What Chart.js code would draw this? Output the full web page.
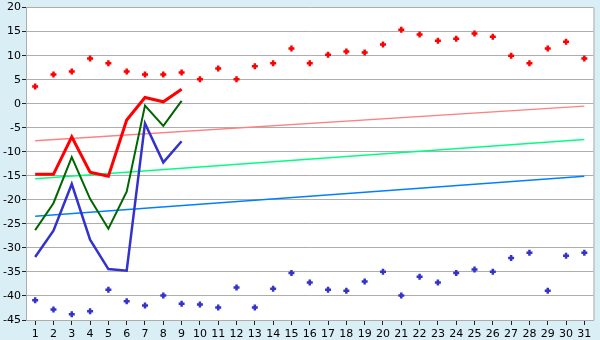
<!DOCTYPE html>
<html>
<head>
<meta charset="utf-8">
<script src="https://cdn.jsdelivr.net/npm/chart.js@4/dist/chart.umd.min.js"></script>
<style>
  html, body { margin: 0; padding: 0; background: #D9EEF5; }
  #wrap { width: 600px; height: 340px; }
</style>
</head>
<body>
<div id="wrap"><canvas id="c" width="600" height="340"></canvas></div>
<script>
// Categories (days)
const days = ['1','2','3','4','5','6','7','8','9','10','11','12','13','14','15','16','17','18','19','20','21','22','23','24','25','26','27','28','29','30','31'];

// Daily high markers (red)
const highPoints = [3.6, 6.1, 6.7, 9.4, 8.4, 6.7, 6.1, 6.1, 6.5, 5.1, 7.35, 5.1, 7.8, 8.4, 11.5, 8.4, 10.2, 10.85, 10.65, 12.3, 15.4, 14.4, 13.1, 13.5, 14.6, 13.95, 10.0, 8.4, 11.5, 12.9, 9.4];

// Daily low markers (blue)
const lowPoints = [-40.9, -42.8, -43.8, -43.2, -38.7, -41.1, -42.0, -39.9, -41.6, -41.8, -42.4, -38.25, -42.4, -38.5, -35.2, -37.2, -38.7, -38.9, -37.0, -34.95, -39.9, -36.0, -37.2, -35.2, -34.5, -34.95, -32.1, -31.0, -38.9, -31.65, -31.0];

// Current month lines (days 1-9)
const redLine   = [-14.7, -14.7, -6.9, -14.25, -15.1, -3.4, 1.3, 0.4, 3.0];
const greenLine = [-26.3, -20.7, -11.1, -19.8, -26.0, -18.3, -0.4, -4.6, 0.6];
const blueLine  = [-31.9, -26.4, -16.7, -28.3, -34.4, -34.75, -4.1, -12.2, -7.8];

// Trend lines (values at day 1 and day 31)
const trendHigh = { start: -7.7, end: -0.5 };
const trendMid  = { start: -15.6, end: -7.45 };
const trendLow  = { start: -23.4, end: -15.1 };

// Y axis ticks
const yMin = -45, yMax = 20, yStep = 5;

function endpoints(t) {
  const arr = days.map(() => null);
  arr[0] = t.start;
  arr[arr.length - 1] = t.end;
  return arr;
}

const bgPlugin = {
  id: 'bg',
  beforeDraw(chart) {
    const { ctx, chartArea: a } = chart;
    ctx.save();
    ctx.fillStyle = '#D9EEF5';
    ctx.fillRect(0, 0, chart.width, chart.height);
    ctx.fillStyle = '#FFFFFF';
    ctx.fillRect(a.left, a.top, a.right - a.left, a.bottom - a.top);
    ctx.restore();
  },
  afterDraw(chart) {
    const { ctx, chartArea: a } = chart;
    ctx.save();
    ctx.strokeStyle = '#ADADAD';
    ctx.lineWidth = 1;
    ctx.beginPath();
    ctx.moveTo(a.right + 0.5, a.top);
    ctx.lineTo(a.right + 0.5, a.bottom);
    ctx.stroke();
    ctx.restore();
  }
};

const font = { family: 'DejaVu Sans', size: 11 };

new Chart(document.getElementById('c'), {
  type: 'line',
  data: {
    labels: days,
    datasets: [
      { data: endpoints(trendHigh), borderColor: '#FF8080', borderWidth: 1.5, pointRadius: 0, spanGaps: true, order: 5 },
      { data: endpoints(trendMid), borderColor: '#00FF80', borderWidth: 1.5, pointRadius: 0, spanGaps: true, order: 5 },
      { data: endpoints(trendLow), borderColor: '#0080FF', borderWidth: 1.5, pointRadius: 0, spanGaps: true, order: 5 },
      { data: blueLine, borderColor: '#3333CC', borderWidth: 2.5, pointRadius: 0, order: 3 },
      { data: greenLine, borderColor: '#006600', borderWidth: 2, pointRadius: 0, order: 2 },
      { data: redLine, borderColor: '#FF0000', borderWidth: 3, pointRadius: 0, order: 1 },
      { data: highPoints, showLine: false, pointStyle: 'cross', pointRadius: 3, pointBorderWidth: 2.5, borderColor: '#FF0000', backgroundColor: '#FF0000', order: 0 },
      { data: lowPoints, showLine: false, pointStyle: 'cross', pointRadius: 3, pointBorderWidth: 2.5, borderColor: '#3333CC', backgroundColor: '#3333CC', order: 0 }
    ]
  },
  options: {
    responsive: false,
    animation: false,
    events: [],
    layout: { padding: { top: 5, right: 5, left: 0, bottom: 0 } },
    plugins: { legend: { display: false }, tooltip: { enabled: false }, title: { display: false } },
    elements: { line: { tension: 0 } },
    scales: {
      x: {
        offset: true,
        grid: { display: true, drawOnChartArea: false, drawTicks: true, tickLength: 5, tickColor: '#222222', offset: false },
        border: { display: true, color: '#ADADAD' },
        ticks: { color: '#000000', font: font, padding: 3, maxRotation: 0, autoSkip: false },
        afterFit(s) { s.height = 20; }
      },
      y: {
        min: yMin, max: yMax,
        grid: { color: '#ADADAD', lineWidth: 1, drawTicks: true, tickLength: 4, tickColor: '#222222' },
        border: { display: true, color: '#ADADAD' },
        ticks: { stepSize: yStep, color: '#000000', font: font, padding: 1 },
        afterFit(s) { s.width = 26; }
      }
    }
  },
  plugins: [bgPlugin]
});
</script>
</body>
</html>
